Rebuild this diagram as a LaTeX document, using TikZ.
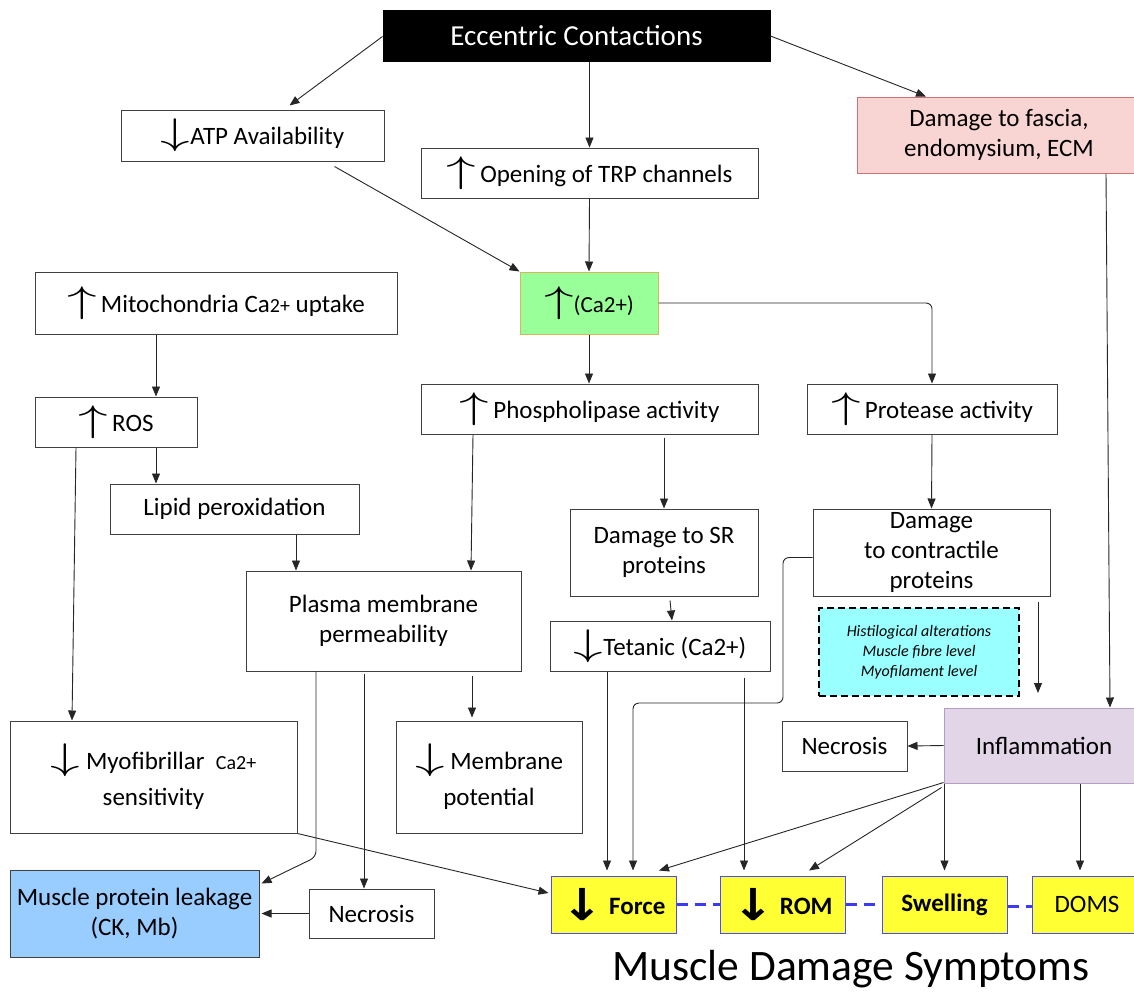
\RequirePackage{fix-cm}
\documentclass[tikz,border=0pt]{standalone}
\usepackage{fontspec}
\setmainfont{Carlito}
\newfontfamily\symbf{DejaVu Sans Bold}
\usepackage{graphicx}
\usetikzlibrary{arrows.meta,calc}
\definecolor{pinkf}{HTML}{F8D5D3}
\definecolor{pinkd}{HTML}{D07070}
\definecolor{greenf}{HTML}{99FF99}
\definecolor{greend}{HTML}{D6B656}
\definecolor{bluef}{HTML}{99CCFF}
\definecolor{cyanf}{HTML}{99FFFF}
\definecolor{purplef}{HTML}{E1D5E7}
\definecolor{purpled}{HTML}{B59CC4}
\definecolor{yelf}{HTML}{FFFF33}
\definecolor{yeld}{HTML}{4B4BFF}
\definecolor{dashb}{HTML}{3B3BF0}
\newcommand{\UpA}{\scalebox{1.6}[1]{\fontsize{37}{37}\selectfont$\uparrow$}}
\newcommand{\DnA}{\scalebox{1.6}[1]{\fontsize{37}{37}\selectfont$\downarrow$}}
\newcommand{\DnB}{\raisebox{-6pt}{\scalebox{1.25}[1.1]{\fontsize{40}{40}\selectfont\symbf ↓}}}
\newcommand{\smallca}[1]{{\fontsize{20}{20}\selectfont #1}}
\tikzset{
  box/.style={draw=black!75, line width=1pt, fill=white, inner sep=0pt, align=center,
    font=\fontsize{25}{30}\selectfont},
  symp/.style={box, draw=yeld, fill=yelf, minimum width=125pt, minimum height=57pt},
  arr/.style={-{Triangle[length=10pt,width=8pt]}, line width=0.9pt, black!85},
  bdash/.style={dashb, line width=2.2pt, dash pattern=on 11pt off 7pt},
}
\begin{document}
\begin{tikzpicture}[x=1pt,y=-1pt]
\useasboundingbox[fill=white] (0,0) rectangle (1134,994);

% nodes
\node[box, fill=black, draw=black, text=white, font=\fontsize{29}{34}\selectfont,
  minimum width=387pt, minimum height=51pt] (ecc) at (576.5,35.5) {Eccentric Contactions};
\node[box, minimum width=263pt, minimum height=51pt] (atp) at (252.5,135.5) {\DnA ATP Availability};
\node[box, minimum width=337pt, minimum height=50pt] (trp) at (589.5,173) {\UpA\,Opening of TRP channels};
\node[box, fill=pinkf, draw=pinkd, minimum width=284pt, minimum height=76pt] (fascia) at (999,135)
  {Damage to fascia,\\endomysium, ECM};
\node[box, fill=greenf, draw=greend, minimum width=138pt, minimum height=62pt] (green) at (589,303)
  {\UpA{\fontsize{23}{23}\selectfont(Ca2+)}};
\node[box, minimum width=362pt, minimum height=62pt] (mito) at (216,303)
  {\UpA\,Mitochondria Ca\smallca{2+} uptake};
\node[box, minimum width=162pt, minimum height=50pt] (ros) at (116,422) {\UpA\,ROS};
\node[box, minimum width=249pt, minimum height=50pt] (lipid) at (234.5,509) {Lipid peroxidation};
\node[box, minimum width=337pt, minimum height=50pt] (phospho) at (589.5,409) {\UpA\,Phospholipase activity};
\node[box, minimum width=250pt, minimum height=50pt] (protease) at (932,409) {\UpA\,Protease activity};
\node[box, minimum width=275pt, minimum height=100pt] (plasma) at (383.5,621) {Plasma membrane\\permeability};
\node[box, minimum width=188pt, minimum height=87pt] (sr) at (664,552.5) {Damage to SR\\proteins};
\node[box, minimum width=237pt, minimum height=87pt] (contr) at (931.5,552.5) {Damage\\to contractile\\proteins};
\node[box, minimum width=220pt, minimum height=50pt] (tetanic) at (660,646) {\DnA Tetanic (Ca2+)};
\node[box, fill=cyanf, draw=black, line width=2.2pt, dash pattern=on 7pt off 4pt,
  font=\fontsize{16}{20}\selectfont\itshape, minimum width=200pt, minimum height=88pt] (histo) at (919,652)
  {Histilogical alterations\\Muscle fibre level\\Myofilament level};
\node[box, minimum width=287pt, minimum height=112pt, font=\fontsize{25}{36}\selectfont] (myofib) at (153.5,777)
  {\DnA\ Myofibrillar~~\smallca{Ca2+}\\sensitivity};
\node[box, minimum width=186pt, minimum height=112pt, font=\fontsize{25}{36}\selectfont] (membr) at (489,777)
  {\DnA\ Membrane\\potential};
\node[box, fill=bluef, minimum width=249pt, minimum height=87pt] (leak) at (134.5,913.5)
  {Muscle protein leakage\\(CK, Mb)};
\node[box, minimum width=125pt, minimum height=49pt] (necA) at (371.5,913.5) {Necrosis};
\node[box, minimum width=125pt, minimum height=50pt] (necB) at (844.5,746) {Necrosis};
\node[box, fill=purplef, draw=purpled, minimum width=200pt, minimum height=75pt] (infl) at (1044,745.5) {Inflammation};
\node[symp] (force) at (613.5,904.5) {\bfseries\DnB\ Force};
\node[symp] (rom) at (782.5,904.5) {\bfseries\DnB\ ROM};
\node[symp] (swell) at (944.5,904.5) {\bfseries Swelling};
\node[symp, minimum width=110pt] (doms) at (1087,904.5) {DOMS};
\node[font=\fontsize{43.5}{48}\selectfont, inner sep=0pt] (title) at (851,969) {Muscle Damage Symptoms};

% helper coordinates
\coordinate (c1) at (783,703);
\coordinate (c2) at (633,703);
\coordinate (pl1) at (316,857);
\coordinate (cfree) at (1038,693);

% connectors
\draw[arr] ([yshift=-1pt]ecc.west) -- ([xshift=37pt,yshift=4pt]atp.north);
\draw[arr] (trp.north |- ecc.south) -- (trp.north);
\draw[arr] ([yshift=-0.5pt]ecc.east) -- ([xshift=-73pt]fascia.north);
\draw[arr] ([xshift=82pt,yshift=-5pt]atp.south) -- (green.north west);
\draw[arr] (trp.south) -- (green.north);
\draw[arr] ([xshift=-60pt]mito.south) -- ([xshift=40pt]ros.north);
\draw[arr] ([xshift=40pt]ros.south) -- ([xshift=40pt]ros.south |- lipid.north);
\draw[arr] ([xshift=-40pt]ros.south) -- ([xshift=-81.5pt]myofib.north);
\draw[arr] ([xshift=61.5pt]lipid.south) -- ([xshift=61.5pt]lipid.south |- plasma.north);
\draw[arr] ([xshift=-116.5pt]phospho.south) -- ([xshift=87.5pt]plasma.north);
\draw[arr] (green.south) -- (green.south |- phospho.north);
\draw[arr, rounded corners=6pt] (green.east) -| (protease.north);
\draw[arr] ([yshift=-3pt]sr.north |- phospho.south) -- (sr.north);
\draw[arr] (protease.south) -- (contr.north);
\draw[arr] ([xshift=6pt,yshift=-4pt]sr.south) -- ([xshift=12pt]tetanic.north);
\draw[arr] ([xshift=106.5pt,yshift=-5pt]contr.south) -- (cfree);
\draw[arr] ([xshift=107pt]fascia.south) -- ([xshift=66pt]infl.north);
\draw[arr] (infl.west) -- (necB.east);
\draw[arr] ([xshift=-53pt]tetanic.south) -- ([xshift=-6.5pt,yshift=5pt]force.north);
\draw[arr] ([xshift=84pt,yshift=-6pt]tetanic.south) -- ([xshift=-38.5pt,yshift=5pt]rom.north);
\draw[arr, rounded corners=6pt] ([yshift=-5pt]contr.west) -| (c1) -- (c2) -- ([yshift=5pt]c2 |- force.north);
\draw[arr] (myofib.south east) -- ([xshift=-2pt,yshift=11.5pt]force.west);
\draw[arr, rounded corners=6pt] ([xshift=-67.5pt]plasma.south) -- (pl1) -- ([xshift=2pt,yshift=30pt]leak.east);
\draw[arr] ([xshift=-19.5pt,yshift=-2pt]plasma.south) -- ([xshift=-7.5pt]necA.north);
\draw[arr] ([xshift=88.5pt,yshift=-4pt]plasma.south) -- ([xshift=-17pt,yshift=3pt]membr.north);
\draw[arr] (necA.west) -- ([xshift=2pt]leak.east);
\draw[arr] ([yshift=1pt]infl.south west) -- ([xshift=45.5pt,yshift=5pt]force.north);
\draw[arr] ([xshift=-2pt,yshift=-4pt]infl.south west) -- ([xshift=26.5pt,yshift=5pt]rom.north);
\draw[arr] (swell.north |- infl.south) -- ([yshift=5pt]swell.north);
\draw[arr] ([xshift=-7pt]doms.north |- infl.south) -- ([xshift=-7pt,yshift=5pt]doms.north);

% dashed links between symptoms
\draw[bdash] (force.east) -- (rom.west);
\draw[bdash] (rom.east) -- (swell.west);
\draw[bdash] ([yshift=-2pt]swell.east) -- ([yshift=-2pt]doms.west);
\end{tikzpicture}
\end{document}
